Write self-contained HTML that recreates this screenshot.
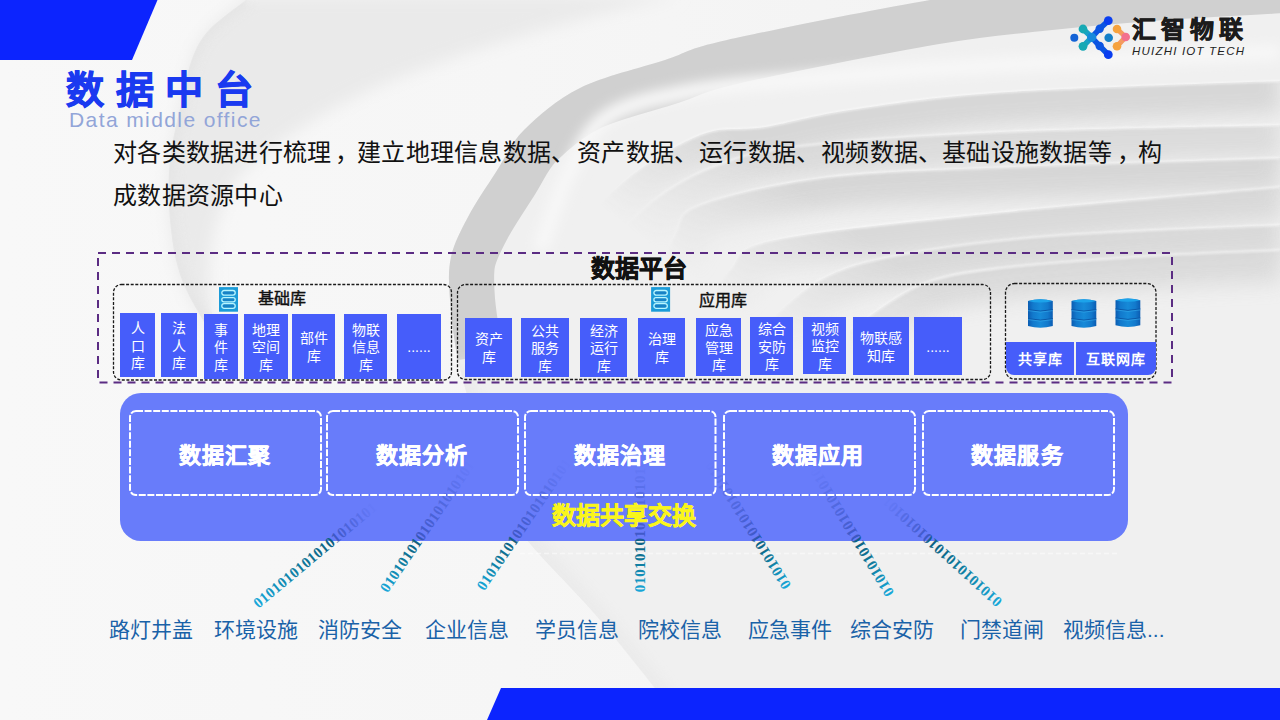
<!DOCTYPE html>
<html lang="zh-CN">
<head>
<meta charset="utf-8">
<style>
*{margin:0;padding:0;box-sizing:border-box}
html,body{width:1280px;height:720px;overflow:hidden}
body{position:relative;background:#f6f6f6;font-family:"Liberation Sans",sans-serif}
.a{position:absolute}
svg.bg{position:absolute;left:0;top:0}
.t{position:absolute;white-space:nowrap;line-height:1}
.title{left:66px;top:71px;font-size:38px;font-weight:bold;color:#1a3af0;-webkit-text-stroke:0.9px #1a3af0;letter-spacing:11.6px}
.sub{left:69px;top:109px;font-size:21px;color:#92a5d8;letter-spacing:1.4px}
.para{top:131px;font-size:24px;color:#111;line-height:43px;letter-spacing:0.3px}
.cell{position:absolute;background:#465dfa;color:#fff;font-size:14px;line-height:17.5px;text-align:center;display:flex;align-items:center;justify-content:center;padding-top:3px}
.dbox{position:absolute;display:flex;align-items:center;justify-content:center;color:#fff;font-size:22px;font-weight:bold;letter-spacing:1.2px;padding-right:2px;-webkit-text-stroke:0.5px #fff}
.lab{position:absolute;top:619px;font-size:21px;color:#1a62a8;white-space:nowrap;line-height:1}
</style>
</head>
<body>
<!-- bgart -->
<svg class="bg" width="1280" height="720" viewBox="0 0 1280 720">
<defs>
<linearGradient id="bgbase" x1="0" y1="0" x2="1" y2="0"><stop offset="0" stop-color="#f8f8f8"/><stop offset="0.4" stop-color="#f6f6f6"/><stop offset="1" stop-color="#f1f1f1"/></linearGradient>
<filter id="bl1" x="-30%" y="-30%" width="160%" height="160%"><feGaussianBlur stdDeviation="1"/></filter>
<filter id="bl2" x="-30%" y="-30%" width="160%" height="160%"><feGaussianBlur stdDeviation="2"/></filter>
<filter id="bl3" x="-30%" y="-30%" width="160%" height="160%"><feGaussianBlur stdDeviation="3"/></filter>
<filter id="bl4" x="-30%" y="-30%" width="160%" height="160%"><feGaussianBlur stdDeviation="4"/></filter>
<filter id="bl6" x="-30%" y="-30%" width="160%" height="160%"><feGaussianBlur stdDeviation="6"/></filter>
<filter id="bl8" x="-30%" y="-30%" width="160%" height="160%"><feGaussianBlur stdDeviation="8"/></filter>
<filter id="bl10" x="-30%" y="-30%" width="160%" height="160%"><feGaussianBlur stdDeviation="10"/></filter>
<filter id="bl14" x="-30%" y="-30%" width="160%" height="160%"><feGaussianBlur stdDeviation="14"/></filter>
<filter id="bl20" x="-30%" y="-30%" width="160%" height="160%"><feGaussianBlur stdDeviation="20"/></filter>
<linearGradient id="fadeg" gradientUnits="userSpaceOnUse" x1="900" y1="150" x2="760" y2="330"><stop offset="0" stop-color="#fff"/><stop offset="0.4" stop-color="#fff"/><stop offset="1" stop-color="#000"/></linearGradient>
<mask id="mfade" maskUnits="userSpaceOnUse" x="0" y="0" width="1280" height="720"><rect width="1280" height="720" fill="url(#fadeg)"/></mask>
<clipPath id="cE0"><path d="M246.0,0.0 C239.8,5.0 218.0,20.2 209.0,30.0 C200.0,39.8 196.5,47.3 192.0,59.0 C187.5,70.7 185.7,83.2 182.0,100.0 C178.3,116.8 172.0,140.0 170.0,160.0 C168.0,180.0 168.0,200.0 170.0,220.0 C172.0,240.0 174.5,260.0 182.0,280.0 C189.5,300.0 209.5,330.0 215.0,340.0 L215.0,340.0 C214.2,326.7 207.5,285.0 210.0,260.0 C212.5,235.0 219.2,209.0 230.0,190.0 C240.8,171.0 255.0,161.0 275.0,146.0 C295.0,131.0 322.2,114.0 350.0,100.0 C377.8,86.0 407.0,74.5 442.0,62.0 C477.0,49.5 520.3,36.2 560.0,25.0 C599.7,13.8 660.0,0.0 680.0,-5.0 L680,-5 L246,-5 Z"/></clipPath>
<clipPath id="cB"><path d="M1320.0,-34.0 C1291.7,-32.3 1196.7,-27.3 1150.0,-24.0 C1103.3,-20.7 1076.7,-18.0 1040.0,-14.0 C1003.3,-10.0 982.2,-9.0 930.0,0.0 C877.8,9.0 771.2,30.0 727.0,40.0 C682.8,50.0 689.5,52.0 665.0,60.0 C640.5,68.0 603.5,76.3 580.0,88.0 C556.5,99.7 538.0,116.0 524.0,130.0 C510.0,144.0 505.3,157.5 496.0,172.0 C486.7,186.5 475.5,202.8 468.0,217.0 C460.5,231.2 454.0,243.2 451.0,257.0 C448.0,270.8 448.8,282.8 450.0,300.0 C451.2,317.2 453.8,340.0 458.0,360.0 C462.2,380.0 468.8,400.8 475.0,420.0 C481.2,439.2 487.7,456.7 495.0,475.0 C502.3,493.3 501.5,505.8 519.0,530.0 C536.5,554.2 573.2,588.3 600.0,620.0 C626.8,651.7 666.7,703.3 680.0,720.0 L1320,720 L1320,-40 Z"/></clipPath>
<clipPath id="cBb"><path d="M1320.0,-34.0 C1291.7,-32.3 1196.7,-27.3 1150.0,-24.0 C1103.3,-20.7 1076.7,-18.0 1040.0,-14.0 C1003.3,-10.0 982.2,-9.0 930.0,0.0 C877.8,9.0 771.2,30.0 727.0,40.0 C682.8,50.0 689.5,52.0 665.0,60.0 C640.5,68.0 603.5,76.3 580.0,88.0 C556.5,99.7 538.0,116.0 524.0,130.0 C510.0,144.0 505.3,157.5 496.0,172.0 C486.7,186.5 475.5,202.8 468.0,217.0 C460.5,231.2 454.0,243.2 451.0,257.0 C448.0,270.8 448.8,282.8 450.0,300.0 C451.2,317.2 453.8,340.0 458.0,360.0 C462.2,380.0 468.8,400.8 475.0,420.0 C481.2,439.2 487.7,456.7 495.0,475.0 C502.3,493.3 501.5,505.8 519.0,530.0 C536.5,554.2 573.2,588.3 600.0,620.0 C626.8,651.7 666.7,703.3 680.0,720.0 L1320,720 L1320,-40 Z"/></clipPath>
<clipPath id="cD"><path d="M540.0,330.0 C545.0,316.7 556.7,274.2 570.0,250.0 C583.3,225.8 598.3,204.2 620.0,185.0 C641.7,165.8 675.8,144.7 700.0,135.0 C724.2,125.3 740.0,131.2 765.0,127.0 C790.0,122.8 810.8,115.8 850.0,110.0 C889.2,104.2 928.3,97.3 1000.0,92.5 C1071.7,87.7 1233.3,82.9 1280.0,81.0 L1280,720 L540,720 Z"/></clipPath>
<clipPath id="cE3"><path d="M590.0,300.0 C592.2,292.8 597.5,268.8 603.0,257.0 C608.5,245.2 612.7,239.8 623.0,229.0 C633.3,218.2 648.7,202.8 665.0,192.0 C681.3,181.2 698.5,171.7 721.0,164.0 C743.5,156.3 753.5,151.3 800.0,146.0 C846.5,140.7 920.0,135.5 1000.0,132.0 C1080.0,128.5 1233.3,126.2 1280.0,125.0 L1280,720 L590,720 Z"/></clipPath>
<clipPath id="cE"><path d="M650.0,300.0 C654.2,289.2 666.7,250.8 675.0,235.0 C683.3,219.2 675.0,214.6 700.0,205.0 C725.0,195.4 775.0,183.8 825.0,177.5 C875.0,171.2 924.2,170.8 1000.0,167.5 C1075.8,164.2 1233.3,159.6 1280.0,158.0 L1280,720 L650,720 Z"/></clipPath>
<clipPath id="cF"><path d="M700.0,320.0 C705.0,311.7 717.5,283.3 730.0,270.0 C742.5,256.7 730.0,249.6 775.0,240.0 C820.0,230.4 915.8,221.3 1000.0,212.5 C1084.2,203.7 1233.3,191.2 1280.0,187.0 L1280,720 L700,720 Z"/></clipPath>
<clipPath id="cG"><path d="M760.0,330.0 C770.0,321.7 796.7,292.5 820.0,280.0 C843.3,267.5 861.7,262.3 900.0,255.0 C938.3,247.7 986.7,241.0 1050.0,236.0 C1113.3,231.0 1241.7,226.8 1280.0,225.0 L1280,720 L760,720 Z"/></clipPath>
<clipPath id="cH"><path d="M850.0,330.0 C861.7,322.5 895.0,295.3 920.0,285.0 C945.0,274.7 961.7,272.8 1000.0,268.0 C1038.3,263.2 1103.3,259.0 1150.0,256.0 C1196.7,253.0 1258.3,251.0 1280.0,250.0 L1280,720 L850,720 Z"/></clipPath>
</defs>
<rect width="1280" height="720" fill="url(#bgbase)"/>
<path d="M246.0,0.0 C239.8,5.0 218.0,20.2 209.0,30.0 C200.0,39.8 196.5,47.3 192.0,59.0 C187.5,70.7 185.7,83.2 182.0,100.0 C178.3,116.8 172.0,140.0 170.0,160.0 C168.0,180.0 168.0,200.0 170.0,220.0 C172.0,240.0 174.5,260.0 182.0,280.0 C189.5,300.0 209.5,330.0 215.0,340.0 L215.0,340.0 C214.2,326.7 207.5,285.0 210.0,260.0 C212.5,235.0 219.2,209.0 230.0,190.0 C240.8,171.0 255.0,161.0 275.0,146.0 C295.0,131.0 322.2,114.0 350.0,100.0 C377.8,86.0 407.0,74.5 442.0,62.0 C477.0,49.5 520.3,36.2 560.0,25.0 C599.7,13.8 660.0,0.0 680.0,-5.0 L680,-5 L246,-5 Z" fill="#eaeaea" filter="url(#bl8)"/>
<g clip-path="url(#cE0)"><path d="M246.0,0.0 C239.8,5.0 218.0,20.2 209.0,30.0 C200.0,39.8 196.5,47.3 192.0,59.0 C187.5,70.7 185.7,83.2 182.0,100.0 C178.3,116.8 172.0,140.0 170.0,160.0 C168.0,180.0 168.0,200.0 170.0,220.0 C172.0,240.0 174.5,260.0 182.0,280.0 C189.5,300.0 209.5,330.0 215.0,340.0" fill="none" stroke="#e3e3e3" stroke-width="16" filter="url(#bl4)" opacity="0.8"/></g>
<path d="M1320.0,-34.0 C1291.7,-32.3 1196.7,-27.3 1150.0,-24.0 C1103.3,-20.7 1076.7,-18.0 1040.0,-14.0 C1003.3,-10.0 982.2,-9.0 930.0,0.0 C877.8,9.0 771.2,30.0 727.0,40.0 C682.8,50.0 689.5,52.0 665.0,60.0 C640.5,68.0 603.5,76.3 580.0,88.0 C556.5,99.7 538.0,116.0 524.0,130.0 C510.0,144.0 505.3,157.5 496.0,172.0 C486.7,186.5 475.5,202.8 468.0,217.0 C460.5,231.2 454.0,243.2 451.0,257.0 C448.0,270.8 448.8,282.8 450.0,300.0 C451.2,317.2 453.8,340.0 458.0,360.0 C462.2,380.0 468.8,400.8 475.0,420.0 C481.2,439.2 487.7,456.7 495.0,475.0 C502.3,493.3 501.5,505.8 519.0,530.0 C536.5,554.2 573.2,588.3 600.0,620.0 C626.8,651.7 666.7,703.3 680.0,720.0 L1320,720 L1320,-40 Z" fill="#f0f0f0"/>
<g clip-path="url(#cB)"><path d="M1320.0,-34.0 C1291.7,-32.3 1196.7,-27.3 1150.0,-24.0 C1103.3,-20.7 1076.7,-18.0 1040.0,-14.0 C1003.3,-10.0 982.2,-9.0 930.0,0.0 C877.8,9.0 771.2,30.0 727.0,40.0 C682.8,50.0 689.5,52.0 665.0,60.0 C640.5,68.0 603.5,76.3 580.0,88.0 C556.5,99.7 538.0,116.0 524.0,130.0 C510.0,144.0 505.3,157.5 496.0,172.0 C486.7,186.5 475.5,202.8 468.0,217.0 C460.5,231.2 454.0,243.2 451.0,257.0 C448.0,270.8 448.8,282.8 450.0,300.0 C451.2,317.2 456.7,350.0 458.0,360.0" fill="none" stroke="#d0d0d0" stroke-width="90" filter="url(#bl16)" opacity="1.0"/></g>
<g clip-path="url(#cBb)"><path d="M458.0,360.0 C460.8,370.0 468.8,400.8 475.0,420.0 C481.2,439.2 487.7,456.7 495.0,475.0 C502.3,493.3 501.5,505.8 519.0,530.0 C536.5,554.2 573.2,588.3 600.0,620.0 C626.8,651.7 666.7,703.3 680.0,720.0" fill="none" stroke="#e6e6e6" stroke-width="20" filter="url(#bl6)" opacity="0.5"/></g>
<path d="M540.0,250.0 C545.0,236.7 558.5,192.3 570.0,170.0 C581.5,147.7 588.5,129.2 609.0,116.0 C629.5,102.8 661.2,97.0 693.0,91.0 C724.8,85.0 748.8,84.3 800.0,80.0 C851.2,75.7 920.0,69.7 1000.0,65.0 C1080.0,60.3 1233.3,54.2 1280.0,52.0" fill="none" stroke="#f7f7f7" stroke-width="16" filter="url(#bl6)"/>
<g mask="url(#mfade)">
<g clip-path="url(#cD)"><path d="M540.0,330.0 C545.0,316.7 556.7,274.2 570.0,250.0 C583.3,225.8 598.3,204.2 620.0,185.0 C641.7,165.8 675.8,144.7 700.0,135.0 C724.2,125.3 740.0,131.2 765.0,127.0 C790.0,122.8 810.8,115.8 850.0,110.0 C889.2,104.2 928.3,97.3 1000.0,92.5 C1071.7,87.7 1233.3,82.9 1280.0,81.0" fill="none" stroke="#d3d3d3" stroke-width="64" filter="url(#bl10)" opacity="0.85"/></g>
<path d="M540.0,330.0 C545.0,316.7 556.7,274.2 570.0,250.0 C583.3,225.8 598.3,204.2 620.0,185.0 C641.7,165.8 675.8,144.7 700.0,135.0 C724.2,125.3 740.0,131.2 765.0,127.0 C790.0,122.8 810.8,115.8 850.0,110.0 C889.2,104.2 928.3,97.3 1000.0,92.5 C1071.7,87.7 1233.3,82.9 1280.0,81.0" fill="none" stroke="#fdfdfd" stroke-width="1.6" opacity="0.8" filter="url(#bl1)"/>
<g clip-path="url(#cE3)"><path d="M590.0,300.0 C592.2,292.8 597.5,268.8 603.0,257.0 C608.5,245.2 612.7,239.8 623.0,229.0 C633.3,218.2 648.7,202.8 665.0,192.0 C681.3,181.2 698.5,171.7 721.0,164.0 C743.5,156.3 753.5,151.3 800.0,146.0 C846.5,140.7 920.0,135.5 1000.0,132.0 C1080.0,128.5 1233.3,126.2 1280.0,125.0" fill="none" stroke="#d8d8d8" stroke-width="64" filter="url(#bl10)" opacity="0.85"/></g>
<path d="M590.0,300.0 C592.2,292.8 597.5,268.8 603.0,257.0 C608.5,245.2 612.7,239.8 623.0,229.0 C633.3,218.2 648.7,202.8 665.0,192.0 C681.3,181.2 698.5,171.7 721.0,164.0 C743.5,156.3 753.5,151.3 800.0,146.0 C846.5,140.7 920.0,135.5 1000.0,132.0 C1080.0,128.5 1233.3,126.2 1280.0,125.0" fill="none" stroke="#fdfdfd" stroke-width="1.6" opacity="0.8" filter="url(#bl1)"/>
<g clip-path="url(#cE)"><path d="M650.0,300.0 C654.2,289.2 666.7,250.8 675.0,235.0 C683.3,219.2 675.0,214.6 700.0,205.0 C725.0,195.4 775.0,183.8 825.0,177.5 C875.0,171.2 924.2,170.8 1000.0,167.5 C1075.8,164.2 1233.3,159.6 1280.0,158.0" fill="none" stroke="#d3d3d3" stroke-width="64" filter="url(#bl10)" opacity="0.85"/></g>
<path d="M650.0,300.0 C654.2,289.2 666.7,250.8 675.0,235.0 C683.3,219.2 675.0,214.6 700.0,205.0 C725.0,195.4 775.0,183.8 825.0,177.5 C875.0,171.2 924.2,170.8 1000.0,167.5 C1075.8,164.2 1233.3,159.6 1280.0,158.0" fill="none" stroke="#fdfdfd" stroke-width="1.6" opacity="0.8" filter="url(#bl1)"/>
<g clip-path="url(#cF)"><path d="M700.0,320.0 C705.0,311.7 717.5,283.3 730.0,270.0 C742.5,256.7 730.0,249.6 775.0,240.0 C820.0,230.4 915.8,221.3 1000.0,212.5 C1084.2,203.7 1233.3,191.2 1280.0,187.0" fill="none" stroke="#d5d5d5" stroke-width="64" filter="url(#bl10)" opacity="0.85"/></g>
<path d="M700.0,320.0 C705.0,311.7 717.5,283.3 730.0,270.0 C742.5,256.7 730.0,249.6 775.0,240.0 C820.0,230.4 915.8,221.3 1000.0,212.5 C1084.2,203.7 1233.3,191.2 1280.0,187.0" fill="none" stroke="#fdfdfd" stroke-width="1.6" opacity="0.8" filter="url(#bl1)"/>
<g clip-path="url(#cG)"><path d="M760.0,330.0 C770.0,321.7 796.7,292.5 820.0,280.0 C843.3,267.5 861.7,262.3 900.0,255.0 C938.3,247.7 986.7,241.0 1050.0,236.0 C1113.3,231.0 1241.7,226.8 1280.0,225.0" fill="none" stroke="#d6d6d6" stroke-width="64" filter="url(#bl10)" opacity="0.85"/></g>
<path d="M760.0,330.0 C770.0,321.7 796.7,292.5 820.0,280.0 C843.3,267.5 861.7,262.3 900.0,255.0 C938.3,247.7 986.7,241.0 1050.0,236.0 C1113.3,231.0 1241.7,226.8 1280.0,225.0" fill="none" stroke="#fdfdfd" stroke-width="1.6" opacity="0.8" filter="url(#bl1)"/>
<g clip-path="url(#cH)"><path d="M850.0,330.0 C861.7,322.5 895.0,295.3 920.0,285.0 C945.0,274.7 961.7,272.8 1000.0,268.0 C1038.3,263.2 1103.3,259.0 1150.0,256.0 C1196.7,253.0 1258.3,251.0 1280.0,250.0" fill="none" stroke="#d8d8d8" stroke-width="64" filter="url(#bl10)" opacity="0.85"/></g>
<path d="M850.0,330.0 C861.7,322.5 895.0,295.3 920.0,285.0 C945.0,274.7 961.7,272.8 1000.0,268.0 C1038.3,263.2 1103.3,259.0 1150.0,256.0 C1196.7,253.0 1258.3,251.0 1280.0,250.0" fill="none" stroke="#fdfdfd" stroke-width="1.6" opacity="0.8" filter="url(#bl1)"/>
</g>
</svg>

<!-- /bgart -->
<!-- background -->
<svg class="bg" width="1280" height="720" viewBox="0 0 1280 720">
  <defs>
    <linearGradient id="g1" x1="0" y1="0" x2="1" y2="1">
      <stop offset="0" stop-color="#f2f2f2"/>
      <stop offset="1" stop-color="#e6e6e6"/>
    </linearGradient>
  </defs>
    <polygon points="0,0 157.5,0 132,60 0,60" fill="#0c24fe"/>
  <polygon points="501,688 1280,688 1280,720 487,720" fill="#0c24fe"/>
</svg>

<div class="t title">数据中台</div>
<div class="t sub">Data middle office</div>
<div class="t para" style="left:113px">对各类数据进行梳理</div>
<div class="t para" style="left:335px">，</div>
<div class="t para" style="left:357px">建立地理信息数据、</div>
<div class="t para" style="left:577px">资产数据、</div>
<div class="t para" style="left:699px">运行数据、</div>
<div class="t para" style="left:821px">视频数据、</div>
<div class="t para" style="left:942px">基础设施数据等</div>
<div class="t para" style="left:1117px">，</div>
<div class="t para" style="left:1138px">构</div>
<div class="t para" style="left:113px;top:174px">成数据资源中心</div>

<!-- platform -->
<svg class="bg" width="1280" height="720" viewBox="0 0 1280 720">
  <rect x="98" y="253" width="1074" height="129.5" fill="none" stroke="#5b2c83" stroke-width="2" stroke-dasharray="8 6"/>
  <rect x="113.5" y="284.5" width="338" height="95.5" rx="8" fill="none" stroke="#1a1a1a" stroke-width="1.3" stroke-dasharray="3 1.6"/>
  <rect x="457.5" y="284.5" width="533" height="95" rx="8" fill="none" stroke="#1a1a1a" stroke-width="1.3" stroke-dasharray="3 1.6"/>
  <rect x="1005.5" y="283.5" width="150.5" height="95.5" rx="9" fill="none" stroke="#1a1a1a" stroke-width="1.3" stroke-dasharray="3 1.6"/>
</svg>
<div class="t" style="left:591px;top:257px;font-size:24px;font-weight:bold;color:#111;-webkit-text-stroke:0.6px #111">数据平台</div>
<div class="t" style="left:258px;top:291px;font-size:16px;color:#111;-webkit-text-stroke:0.45px #111">基础库</div>
<div class="t" style="left:699px;top:293px;font-size:16px;color:#111;-webkit-text-stroke:0.45px #111">应用库</div>

<div class="cell" style="left:120px;top:313px;width:35px;height:63.5px">人<br>口<br>库</div>
<div class="cell" style="left:161px;top:313px;width:36px;height:63.5px">法<br>人<br>库</div>
<div class="cell" style="left:204px;top:314px;width:34px;height:64.5px">事<br>件<br>库</div>
<div class="cell" style="left:244px;top:314px;width:44px;height:64.5px">地理<br>空间<br>库</div>
<div class="cell" style="left:292px;top:314px;width:43px;height:64.5px">部件<br>库</div>
<div class="cell" style="left:344px;top:314px;width:43px;height:64.5px">物联<br>信息<br>库</div>
<div class="cell" style="left:397px;top:314px;width:44px;height:64.5px">......</div>

<div class="cell" style="left:465px;top:318px;width:47px;height:58.5px">资产<br>库</div>
<div class="cell" style="left:521px;top:318px;width:48px;height:58.5px">公共<br>服务<br>库</div>
<div class="cell" style="left:580px;top:318px;width:47px;height:58.5px">经济<br>运行<br>库</div>
<div class="cell" style="left:638px;top:318px;width:47px;height:58.5px">治理<br>库</div>
<div class="cell" style="left:696px;top:318px;width:45px;height:58px">应急<br>管理<br>库</div>
<div class="cell" style="left:750px;top:317px;width:43px;height:57.5px">综合<br>安防<br>库</div>
<div class="cell" style="left:803px;top:317px;width:43px;height:57px">视频<br>监控<br>库</div>
<div class="cell" style="left:853px;top:317px;width:55.5px;height:58px">物联感<br>知库</div>
<div class="cell" style="left:914px;top:317px;width:48px;height:58px">......</div>

<!-- share box bars -->
<div class="cell" style="left:1006px;top:342px;width:68px;height:33px;font-size:14px;letter-spacing:1px;font-weight:bold;border-bottom-left-radius:8px">共享库</div>
<div class="cell" style="left:1076px;top:342px;width:79.5px;height:33px;font-size:14px;letter-spacing:1px;font-weight:bold;border-bottom-right-radius:8px">互联网库</div>

<svg class="bg" width="1280" height="720" viewBox="0 0 1280 720"><line x1="520" y1="553.5" x2="1120" y2="553.5" stroke="#fff" stroke-width="1.5" stroke-dasharray="5 3" opacity="0.5"/></svg>
<!-- big panel -->
<div class="a" style="left:120px;top:393px;width:1008px;height:147.5px;background:#687cfa;border-radius:21px"></div>
<!-- streams -->
<svg class="bg" width="1280" height="720" viewBox="0 0 1280 720">
<defs>
<linearGradient id="sg0" x1="0" y1="0" x2="1" y2="0"><stop offset="0" stop-color="#18a8da"/><stop offset="0.385" stop-color="#0f7a9c"/><stop offset="0.642" stop-color="#0c5f80"/><stop offset="0.672" stop-color="#1c3a9c" stop-opacity="0.55"/><stop offset="0.857" stop-color="#2a48b8" stop-opacity="0.3"/><stop offset="1" stop-color="#3553d0" stop-opacity="0"/></linearGradient>
<linearGradient id="sg1" x1="0" y1="0" x2="1" y2="0"><stop offset="0" stop-color="#18a8da"/><stop offset="0.233" stop-color="#0f7a9c"/><stop offset="0.389" stop-color="#0c5f80"/><stop offset="0.419" stop-color="#1c3a9c" stop-opacity="0.55"/><stop offset="0.756" stop-color="#2a48b8" stop-opacity="0.3"/><stop offset="1" stop-color="#3553d0" stop-opacity="0"/></linearGradient>
<linearGradient id="sg2" x1="0" y1="0" x2="1" y2="0"><stop offset="0" stop-color="#18a8da"/><stop offset="0.224" stop-color="#0f7a9c"/><stop offset="0.373" stop-color="#0c5f80"/><stop offset="0.403" stop-color="#1c3a9c" stop-opacity="0.55"/><stop offset="0.749" stop-color="#2a48b8" stop-opacity="0.3"/><stop offset="1" stop-color="#3553d0" stop-opacity="0"/></linearGradient>
<linearGradient id="sg3" x1="0" y1="0" x2="1" y2="0"><stop offset="0" stop-color="#18a8da"/><stop offset="0.234" stop-color="#0f7a9c"/><stop offset="0.390" stop-color="#0c5f80"/><stop offset="0.420" stop-color="#1c3a9c" stop-opacity="0.55"/><stop offset="0.756" stop-color="#2a48b8" stop-opacity="0.3"/><stop offset="1" stop-color="#3553d0" stop-opacity="0"/></linearGradient>
<linearGradient id="sg4" x1="0" y1="0" x2="1" y2="0"><stop offset="0" stop-color="#18a8da"/><stop offset="0.226" stop-color="#0f7a9c"/><stop offset="0.376" stop-color="#0c5f80"/><stop offset="0.406" stop-color="#1c3a9c" stop-opacity="0.55"/><stop offset="0.751" stop-color="#2a48b8" stop-opacity="0.3"/><stop offset="1" stop-color="#3553d0" stop-opacity="0"/></linearGradient>
<linearGradient id="sg5" x1="0" y1="0" x2="1" y2="0"><stop offset="0" stop-color="#18a8da"/><stop offset="0.259" stop-color="#0f7a9c"/><stop offset="0.431" stop-color="#0c5f80"/><stop offset="0.461" stop-color="#1c3a9c" stop-opacity="0.55"/><stop offset="0.773" stop-color="#2a48b8" stop-opacity="0.3"/><stop offset="1" stop-color="#3553d0" stop-opacity="0"/></linearGradient>
<linearGradient id="sg6" x1="0" y1="0" x2="1" y2="0"><stop offset="0" stop-color="#18a8da"/><stop offset="0.364" stop-color="#0f7a9c"/><stop offset="0.607" stop-color="#0c5f80"/><stop offset="0.637" stop-color="#1c3a9c" stop-opacity="0.55"/><stop offset="0.843" stop-color="#2a48b8" stop-opacity="0.3"/><stop offset="1" stop-color="#3553d0" stop-opacity="0"/></linearGradient>
</defs>
<g font-family="Liberation Serif" font-weight="bold" font-size="15" letter-spacing="0.3">
<text transform="translate(255.3,604.9) rotate(-39.9)" dominant-baseline="central" fill="url(#sg0)">01010101010101010101</text>
<text transform="translate(383.4,590.7) rotate(-55.7)" dominant-baseline="central" fill="url(#sg1)">01010101010101010101</text>
<text transform="translate(480.0,588.6) rotate(-55.7)" dominant-baseline="central" fill="url(#sg2)">01010101010101010101</text>
<text transform="translate(639.8,592.3) rotate(-90.0)" dominant-baseline="central" fill="url(#sg3)">01010101010101010</text>
<text transform="translate(787.3,587.9) rotate(-122.0)" dominant-baseline="central" fill="url(#sg4)">0101010101010101010</text>
<text transform="translate(890.1,595.3) rotate(-121.1)" dominant-baseline="central" fill="url(#sg5)">0101010101010101010</text>
<text transform="translate(999.7,604.3) rotate(-137.7)" dominant-baseline="central" fill="url(#sg6)">01010101010101010101</text>
</g></svg>

<!-- /streams -->
<svg class="bg" width="1280" height="720" viewBox="0 0 1280 720">
  <g fill="none" stroke="#fff" stroke-width="2" stroke-dasharray="7 1.6">
    <rect x="130" y="411" width="191" height="84" rx="6"/>
    <rect x="327" y="411" width="191" height="84" rx="6"/>
    <rect x="525" y="411" width="190.5" height="84" rx="6"/>
    <rect x="724" y="411" width="191" height="84" rx="6"/>
    <rect x="923" y="411" width="191" height="84" rx="6"/>
  </g>
</svg>
<div class="dbox" style="left:130px;top:410px;width:192px;height:86px">数据汇聚</div>
<div class="dbox" style="left:327px;top:410px;width:192px;height:86px">数据分析</div>
<div class="dbox" style="left:525px;top:410px;width:192px;height:86px">数据治理</div>
<div class="dbox" style="left:723px;top:410px;width:192px;height:86px">数据应用</div>
<div class="dbox" style="left:922px;top:410px;width:193px;height:86px">数据服务</div>
<div class="t" style="left:552px;top:504px;font-size:24px;font-weight:bold;color:#faf51c;-webkit-text-stroke:0.5px #faf51c">数据共享交换</div>


<!-- icons -->
<svg class="bg" width="1280" height="720" viewBox="0 0 1280 720">
  <defs>
    <g id="srv">
      <rect x="0" y="0" width="19" height="24.6" fill="#1b9bd8"/>
      <g fill="#1783c6" stroke="#b8f6ff" stroke-width="1.3">
        <rect x="2.8" y="3.4" width="13.4" height="4.6" rx="2.3"/>
        <rect x="2.8" y="10.6" width="13.4" height="4.2" rx="2.1"/>
        <rect x="2.8" y="16.6" width="13.4" height="4.6" rx="2.3"/>
      </g>
    </g>
    <linearGradient id="cylg" x1="0" y1="0" x2="1" y2="0">
      <stop offset="0" stop-color="#0b5cb2"/>
      <stop offset="0.2" stop-color="#1279cc"/>
      <stop offset="0.5" stop-color="#168ad8"/>
      <stop offset="0.8" stop-color="#1279cc"/>
      <stop offset="1" stop-color="#0b5cb2"/>
    </linearGradient>
    <g id="cyl">
      <path d="M0,2 Q12.4,-1.5 24.8,2 L24.8,27 Q12.4,30.5 0,27 Z" fill="url(#cylg)"/>
      <path d="M0,2 Q12.4,-1.5 24.8,2 Q12.4,5 0,2 Z" fill="#1ca3ea"/>
      <path d="M0,10.6 Q12.4,13.6 24.8,10.6" fill="none" stroke="#0b58a8" stroke-width="1"/>
      <path d="M0,19.6 Q12.4,22.6 24.8,19.6" fill="none" stroke="#0b58a8" stroke-width="1"/>
      <path d="M0,11.6 Q12.4,14.6 24.8,11.6" fill="none" stroke="#3ab0ee" stroke-width="0.8" opacity="0.7"/>
      <path d="M0,20.6 Q12.4,23.6 24.8,20.6" fill="none" stroke="#3ab0ee" stroke-width="0.8" opacity="0.7"/>
    </g>
  </defs>
  <use href="#srv" x="219" y="287.1"/>
  <use href="#srv" x="651.1" y="287.1"/>
  <use href="#cyl" x="1028" y="299"/>
  <use href="#cyl" x="1071.5" y="299"/>
  <use href="#cyl" x="1115.5" y="298.3"/>
</svg>
<!-- logo -->
<svg class="bg" width="1280" height="720" viewBox="0 0 1280 720">
  <g stroke-linecap="round">
    <line x1="1083" y1="29" x2="1091.7" y2="37.3" stroke="#18a2c4" stroke-width="5.5"/>
    <line x1="1083" y1="46.3" x2="1091.7" y2="37.3" stroke="#18a2c4" stroke-width="5.5"/>
    <polyline points="1091.7,37.3 1099.7,28.7 1108.3,20.7" fill="none" stroke="#0c55e2" stroke-width="5.5"/>
    <polyline points="1091.7,37.3 1099.7,46 1108.3,54.7" fill="none" stroke="#0c55e2" stroke-width="5.5"/>
    <polyline points="1117,29 1125.7,37 1117,46.3" fill="none" stroke="#f49a62" stroke-width="5" stroke-linejoin="round"/>
  </g>
  <circle cx="1074.3" cy="37.7" r="4" fill="#1463d6"/>
  <circle cx="1083" cy="29" r="4.4" fill="#17a9b4"/>
  <circle cx="1083" cy="46.3" r="4.4" fill="#17a9b4"/>
  <circle cx="1091.7" cy="37.3" r="4.6" fill="#1689dc"/>
  <circle cx="1099.7" cy="28.7" r="4.2" fill="#0c55e2"/>
  <circle cx="1099.7" cy="46" r="4.2" fill="#0c55e2"/>
  <circle cx="1108.3" cy="20.7" r="4.4" fill="#0a3ef0"/>
  <circle cx="1108.3" cy="54.7" r="4.4" fill="#0a3ef0"/>
  <circle cx="1108.7" cy="37.7" r="4.3" fill="#137fc8"/>
  <circle cx="1117" cy="29" r="4.3" fill="#f6a23e"/>
  <circle cx="1117" cy="46.3" r="4.3" fill="#f6a23e"/>
  <circle cx="1125.7" cy="37" r="4.3" fill="#f2708e"/>
</svg>
<div class="t" style="left:1132px;top:18px;font-size:24px;font-weight:bold;color:#1c1c1c;letter-spacing:5px;-webkit-text-stroke:0.7px #1c1c1c">汇智物联</div>
<div class="t" style="left:1132px;top:46px;font-size:11.5px;font-style:italic;color:#222;letter-spacing:1.2px">HUIZHI IOT TECH</div>

<!-- bottom labels -->
<div class="lab" style="left:109px">路灯井盖</div>
<div class="lab" style="left:214px">环境设施</div>
<div class="lab" style="left:318px">消防安全</div>
<div class="lab" style="left:425px">企业信息</div>
<div class="lab" style="left:535px">学员信息</div>
<div class="lab" style="left:638px">院校信息</div>
<div class="lab" style="left:748px">应急事件</div>
<div class="lab" style="left:850px">综合安防</div>
<div class="lab" style="left:960px">门禁道闸</div>
<div class="lab" style="left:1063px">视频信息...</div>

</body>
</html>
